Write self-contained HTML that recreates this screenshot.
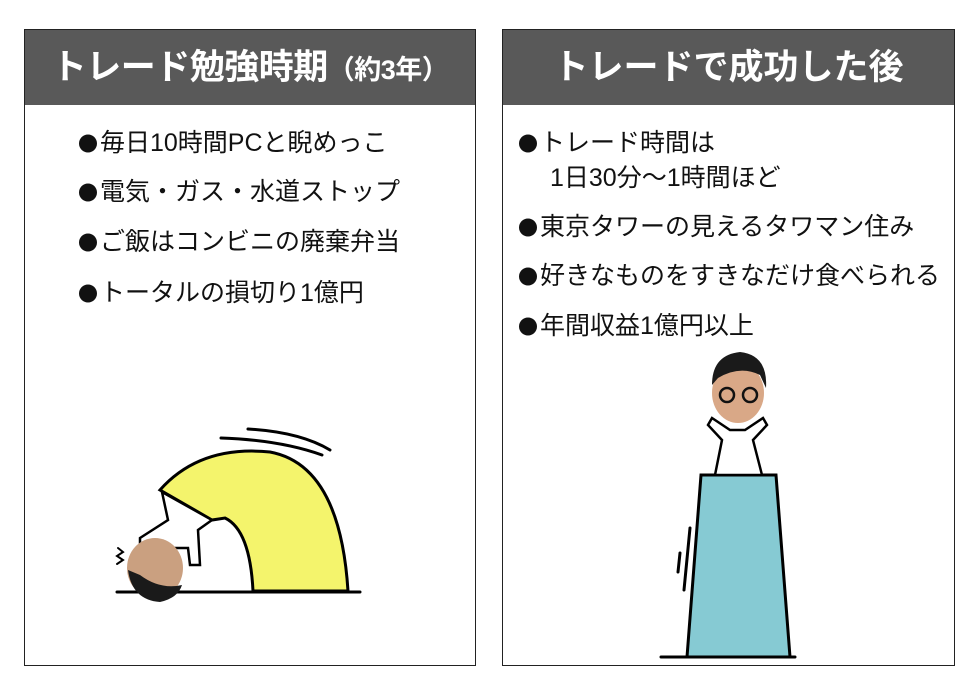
<!DOCTYPE html>
<html><head><meta charset="utf-8"><style>
body{margin:0;width:980px;height:700px;background:#fff;position:relative;font-family:"Liberation Sans","Noto Sans CJK JP",sans-serif;overflow:hidden}
.p{position:absolute;top:29px;height:637px;border:1px solid #222;box-sizing:border-box;background:#fff}
.h{position:absolute;left:0;right:0;top:0;height:75px;background:#595959;color:#fff;font-weight:bold;font-size:35px;line-height:75px;text-align:center;white-space:nowrap}
.t{position:absolute;font-size:25px;color:#111;white-space:nowrap;line-height:30px}
.b{font-family:"Noto Sans CJK JP",sans-serif;font-size:20px;margin-right:2px}
</style></head><body>
<div class="p" style="left:24px;width:452px">
<div class="h" style="letter-spacing:-0.5px">トレード勉強時期<span style="font-size:27px">（約3年）</span></div>
</div>
<div class="p" style="left:502px;width:453px">
<div class="h">トレードで成功した後</div>
</div>
<div class="t" style="left:78px;top:128px"><span class="b">●</span>毎日10時間PCと睨めっこ</div>
<div class="t" style="left:78px;top:177px"><span class="b">●</span>電気・ガス・水道ストップ</div>
<div class="t" style="left:78px;top:227px"><span class="b">●</span>ご飯はコンビニの廃棄弁当</div>
<div class="t" style="left:78px;top:278px"><span class="b">●</span>トータルの損切り1億円</div>
<div class="t" style="left:518px;top:128px"><span class="b">●</span>トレード時間は</div>
<div class="t" style="left:550px;top:163px">1日30分～1時間ほど</div>
<div class="t" style="left:518px;top:212px"><span class="b">●</span>東京タワーの見えるタワマン住み</div>
<div class="t" style="left:518px;top:261px"><span class="b">●</span>好きなものをすきなだけ食べられる</div>
<div class="t" style="left:518px;top:311px"><span class="b">●</span>年間収益1億円以上</div>
<svg width="980" height="700" style="position:absolute;left:0;top:0">
<g stroke="#000" stroke-width="3" fill="none" stroke-linecap="round">
<line x1="117" y1="592" x2="360" y2="592"/>
<path d="M160,490 Q200,445 270,452 Q340,465 348,591 L253,591 Q250,530 225,518 L212,520 Z" fill="#f4f46c"/>
<path d="M221,438 Q280,440 322,455"/>
<path d="M248,429 Q300,432 330,450"/>
<path d="M162,492 L168,520 L140,538 L140,548 L188,548 L190,565 L200,565 L198,530 L212,520 Z" fill="#fff" stroke-width="2.5"/>
<line x1="661" y1="657" x2="795" y2="657"/>
<path d="M701,475 L776,475 L790,657 L687,657 Z" fill="#86cad3"/>
<line x1="690" y1="528" x2="684" y2="590"/>
<line x1="680" y1="553" x2="678" y2="572"/>
<path d="M715,475 L722,440 L708,425 L712,418 L730,430 L745,430 L763,418 L767,425 L753,440 L762,475 Z" fill="#fff" stroke-width="2.5"/>
<path d="M118,548 l5,4 -6,4 6,4 -6,4" stroke-width="2"/>
</g>
<ellipse cx="155" cy="568" rx="28" ry="30" fill="#caa080"/>
<path d="M128,570 Q132,600 160,602 Q178,598 182,585 Q160,590 140,575 Z" fill="#1a1a1a"/>
<ellipse cx="738" cy="393" rx="26" ry="30" fill="#d9a887"/>
<path d="M712,385 Q712,355 740,352 Q768,355 766,388 L760,375 Q740,365 718,378 Z" fill="#1a1a1a"/>
<g stroke="#111" stroke-width="2.5" fill="none"><circle cx="727" cy="395" r="7"/><circle cx="750" cy="395" r="7"/></g>
</svg>
</body></html>
